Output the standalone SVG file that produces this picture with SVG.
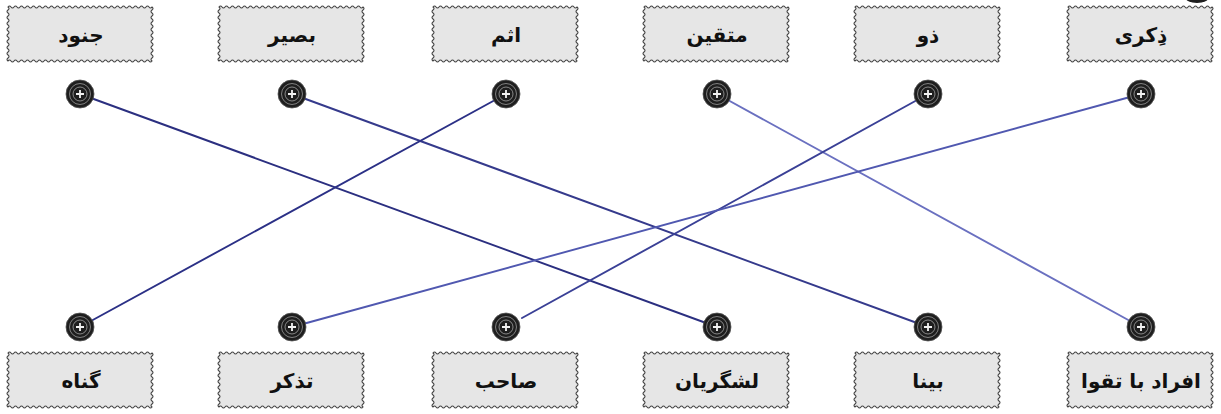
<svg xmlns="http://www.w3.org/2000/svg" xmlns:xlink="http://www.w3.org/1999/xlink" width="1221" height="414" viewBox="0 0 1221 414">
<style>
.bx{fill:#e6e6e6;stroke:#444;stroke-width:1.1}
.lbl{font-family:"DejaVu Sans","Noto Sans",sans-serif;font-weight:bold;font-size:20px;fill:#111;text-anchor:middle}
.ln{fill:none;stroke-width:1.9;stroke-linecap:round}
</style>
<defs>
<path id="box" class="bx" d="M0,0 q1.5,-2 3,0 t3,0 t3,0 t3,0 t3,0 t3,0 t3,0 t3,0 t3,0 t3,0 t3,0 t3,0 t3,0 t3,0 t3,0 t3,0 t3,0 t3,0 t3,0 t3,0 t3,0 t3,0 t3,0 t3,0 t3,0 t3,0 t3,0 t3,0 t3,0 t3,0 t3,0 t3,0 t3,0 t3,0 t3,0 t3,0 t3,0 t3,0 t3,0 t3,0 t3,0 t3,0 t3,0 t3,0 t3,0 t3,0 t3,0 t3,0 q2,1.5 0,3 t0,3 t0,3 t0,3 t0,3 t0,3 t0,3 t0,3 t0,3 t0,3 t0,3 t0,3 t0,3 t0,3 t0,3 t0,3 t0,3 t0,3 q-1.5,2 -3,0 t-3,0 t-3,0 t-3,0 t-3,0 t-3,0 t-3,0 t-3,0 t-3,0 t-3,0 t-3,0 t-3,0 t-3,0 t-3,0 t-3,0 t-3,0 t-3,0 t-3,0 t-3,0 t-3,0 t-3,0 t-3,0 t-3,0 t-3,0 t-3,0 t-3,0 t-3,0 t-3,0 t-3,0 t-3,0 t-3,0 t-3,0 t-3,0 t-3,0 t-3,0 t-3,0 t-3,0 t-3,0 t-3,0 t-3,0 t-3,0 t-3,0 t-3,0 t-3,0 t-3,0 t-3,0 t-3,0 t-3,0 q-2,-1.5 0,-3 t0,-3 t0,-3 t0,-3 t0,-3 t0,-3 t0,-3 t0,-3 t0,-3 t0,-3 t0,-3 t0,-3 t0,-3 t0,-3 t0,-3 t0,-3 t0,-3 t0,-3 Z"/>
<g id="knob">
<circle r="14" fill="#1e1e1e" stroke="#555" stroke-width="0.8"/>
<circle r="10.5" fill="none" stroke="#8a8a8a" stroke-width="0.9"/>
<circle r="7" fill="none" stroke="#b5b5b5" stroke-width="0.7"/>
<path d="M-4,0 H4 M0,-4 V4" stroke="#f2f2f2" stroke-width="1.8"/>
</g>
</defs>
<rect width="1221" height="414" fill="#ffffff"/>
<ellipse cx="1197" cy="-3" rx="12" ry="6" fill="#1e1e1e"/>

<g id="connectors">
<line class="ln" x1="80" y1="94" x2="717" y2="327" stroke="#2b2f80"/>
<line class="ln" x1="292" y1="94" x2="928" y2="327" stroke="#353a8c"/>
<line class="ln" x1="506" y1="94" x2="80" y2="327" stroke="#2b3086"/>
<line class="ln" x1="717" y1="94" x2="1141" y2="327" stroke="#6a70c0"/>
<line class="ln" x1="928" y1="94" x2="522" y2="318" stroke="#3a4096"/>
<line class="ln" x1="1141" y1="94" x2="292" y2="327" stroke="#5058b0"/>
</g>

<g id="t1"><use xlink:href="#box" x="8" y="7"/><text class="lbl" x="81" y="42">جنود</text><use xlink:href="#knob" x="80" y="94"/></g>
<g id="t2"><use xlink:href="#box" x="219" y="7"/><text class="lbl" x="292" y="42">بصیر</text><use xlink:href="#knob" x="292" y="94"/></g>
<g id="t3"><use xlink:href="#box" x="433" y="7"/><text class="lbl" x="506" y="42">اثم</text><use xlink:href="#knob" x="506" y="94"/></g>
<g id="t4"><use xlink:href="#box" x="644" y="7"/><text class="lbl" x="717" y="42">متقین</text><use xlink:href="#knob" x="717" y="94"/></g>
<g id="t5"><use xlink:href="#box" x="855" y="7"/><text class="lbl" x="928" y="42">ذو</text><use xlink:href="#knob" x="928" y="94"/></g>
<g id="t6"><use xlink:href="#box" x="1068" y="7"/><text class="lbl" x="1141" y="42">ذِکری</text><use xlink:href="#knob" x="1141" y="94"/></g>

<g id="b1"><use xlink:href="#knob" x="80" y="327"/><use xlink:href="#box" x="8" y="353"/><text class="lbl" x="81" y="388">گناه</text></g>
<g id="b2"><use xlink:href="#knob" x="292" y="327"/><use xlink:href="#box" x="219" y="353"/><text class="lbl" x="292" y="388">تذکر</text></g>
<g id="b3"><use xlink:href="#knob" x="506" y="327"/><use xlink:href="#box" x="433" y="353"/><text class="lbl" x="506" y="388">صاحب</text></g>
<g id="b4"><use xlink:href="#knob" x="717" y="327"/><use xlink:href="#box" x="644" y="353"/><text class="lbl" x="717" y="388">لشگریان</text></g>
<g id="b5"><use xlink:href="#knob" x="928" y="327"/><use xlink:href="#box" x="855" y="353"/><text class="lbl" x="928" y="388">بینا</text></g>
<g id="b6"><use xlink:href="#knob" x="1141" y="327"/><use xlink:href="#box" x="1068" y="353"/><text class="lbl" x="1141" y="388">افراد با تقوا</text></g>
</svg>
